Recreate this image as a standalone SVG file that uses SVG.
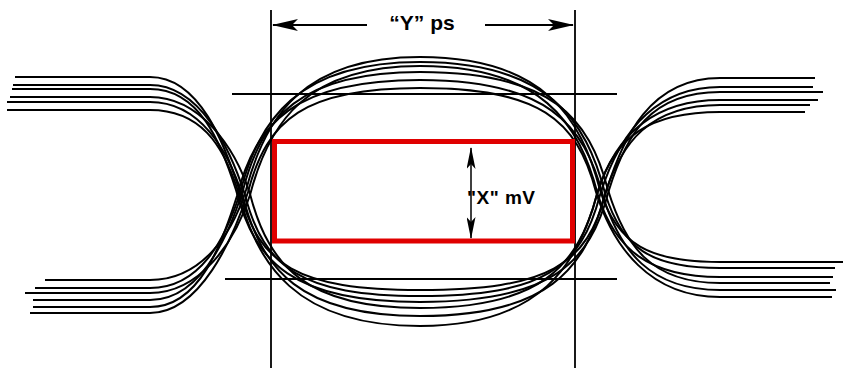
<svg xmlns="http://www.w3.org/2000/svg" width="844" height="368" viewBox="0 0 844 368">
<style>
.tr{fill:none;stroke:#000;stroke-width:2;stroke-linejoin:round}
.gd{fill:none;stroke:#000;stroke-width:1.8}
.lbl{font-family:"Liberation Sans",Arial,sans-serif;font-weight:bold;fill:#000}
</style>
<defs>
<marker id="ah" viewBox="0 0 26 12" refX="25" refY="6" markerUnits="userSpaceOnUse" markerWidth="26" markerHeight="12" orient="auto-start-reverse"><path d="M0,0 L26,6 L0,12 L6,6 Z" fill="#000"/></marker>
<marker id="ahs" viewBox="0 0 22 9" refX="21" refY="4.5" markerUnits="userSpaceOnUse" markerWidth="22" markerHeight="9" orient="auto-start-reverse"><path d="M0,0 L22,4.5 L0,9 L5,4.5 Z" fill="#000"/></marker>
</defs>
<rect width="844" height="368" fill="#fff"/>
<g id="traces">
<path class="tr" d="M45,280 L150,280 C200,280 231,237 246,190 C265,117 303,57 420,57 C543,57 581,117 600,190 C617,245 650,262 720,262 L843,262"/>
<path class="tr" d="M35,288 L150,288 C200,288 225,240 240,193 C259,120 297,62 420,62 C548,62 586,120 605,193 C622,248 650,268 720,268 L835,268"/>
<path class="tr" d="M25,293 L150,293 C200,293 235,242 250,195 C269,122 307,66 420,66 C541,66 579,122 598,195 C615,250 650,277 720,277 L833,277"/>
<path class="tr" d="M33,300 L150,300 C200,300 228,237 243,190 C262,117 300,72 420,72 C551,72 589,117 608,190 C625,245 650,283 720,283 L830,283"/>
<path class="tr" d="M33,307 L150,307 C200,307 222,243 237,196 C256,123 294,80 420,80 C546,80 584,123 603,196 C620,251 650,290 720,290 L836,290"/>
<path class="tr" d="M30,313 L150,313 C200,313 233,239 248,192 C267,119 305,88 420,88 C539,88 577,119 596,192 C613,247 650,297 720,297 L832,297"/>
<path class="tr" d="M15,77 L150,77 C200,77 225,145 240,192 C259,265 297,290 420,290 C549,290 587,265 606,192 C623,137 650,78 720,78 L815,78"/>
<path class="tr" d="M13,85 L150,85 C200,85 230,148 245,195 C264,268 302,296 420,296 C543,296 581,268 600,195 C617,140 650,87 720,87 L813,87"/>
<path class="tr" d="M12,89 L150,89 C200,89 221,143 236,190 C255,263 293,302 420,302 C552,302 590,263 609,190 C626,135 650,92 720,92 L823,92"/>
<path class="tr" d="M10,97 L150,97 C200,97 235,147 250,194 C269,267 307,308 420,308 C540,308 578,267 597,194 C614,139 650,100 720,100 L818,100"/>
<path class="tr" d="M7,102 L150,102 C200,102 228,150 243,197 C262,270 300,316 420,316 C547,316 585,270 604,197 C621,142 650,105 720,105 L810,105"/>
<path class="tr" d="M7,110 L150,110 C200,110 223,144 238,191 C257,264 295,326 420,326 C541,326 579,264 598,191 C615,136 650,112 720,112 L805,112"/>
</g>
<g id="guides">
<line class="gd" x1="271" y1="10" x2="271" y2="368"/>
<line class="gd" x1="575" y1="10" x2="575" y2="368"/>
<line class="gd" x1="232" y1="94" x2="617" y2="94"/>
<line class="gd" x1="225" y1="279" x2="617" y2="279"/>
</g>
<g id="mask">
<rect x="274.5" y="141.5" width="298" height="99.5" fill="none" stroke="#e00000" stroke-width="5"/>
</g>
<g id="connectors">
<line class="gd" x1="367" y1="25" x2="273" y2="25" marker-end="url(#ah)"/>
<line class="gd" x1="485" y1="25" x2="573" y2="25" marker-end="url(#ah)"/>
<line x1="471" y1="148" x2="471" y2="238" stroke="#000" stroke-width="1.5" marker-start="url(#ahs)" marker-end="url(#ahs)"/>
</g>
<g id="labels">
<text class="lbl" x="422" y="30" font-size="21" text-anchor="middle">“Y” ps</text>
<text class="lbl" x="467" y="204" font-size="19" letter-spacing="0.5">"X" mV</text>
</g>
</svg>
